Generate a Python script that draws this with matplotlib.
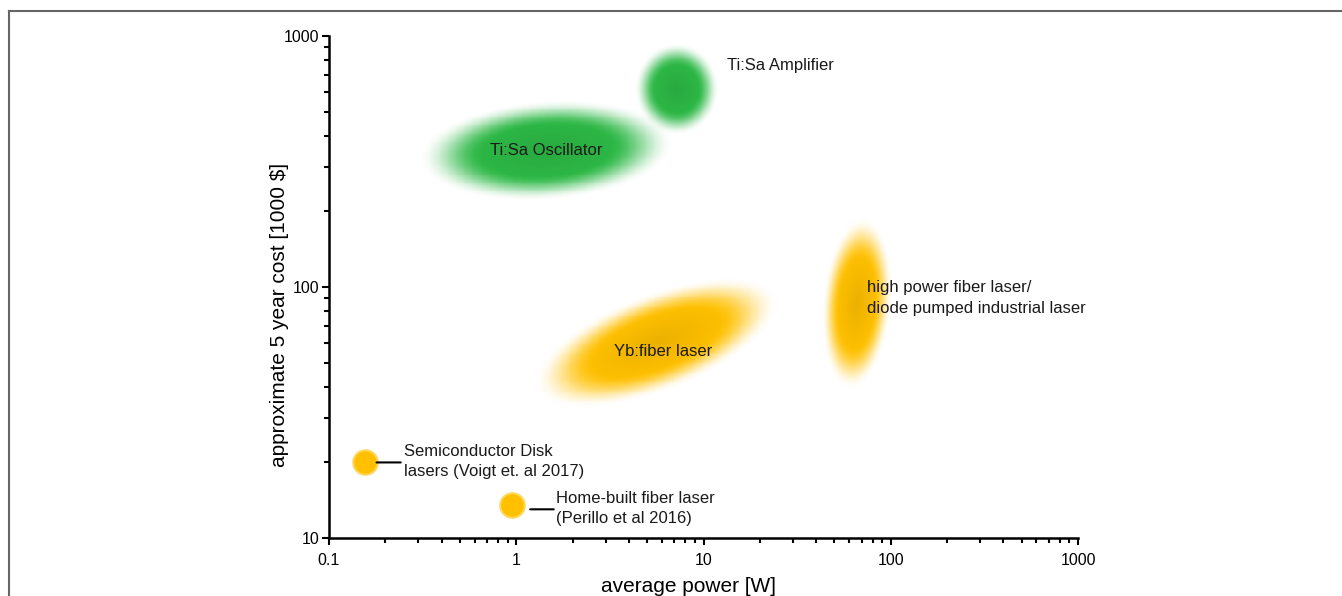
import numpy as np
import matplotlib
matplotlib.use('Agg')
from matplotlib import pyplot as plt
from matplotlib.colors import to_rgb
from matplotlib.lines import Line2D
from matplotlib.patches import ConnectionPatch
from matplotlib.transforms import ScaledTranslation

plt.rcParams['font.family'] = ['Liberation Sans', 'DejaVu Sans']

# laser classes shown as soft blobs (centre power in W, centre cost in 1000 $)
blob_names = ["Ti:Sa Oscillator", "Ti:Sa Amplifier", "Yb:fiber laser",
              "high power fiber laser/\ndiode pumped industrial laser"]
blob_power = [1.45, 7.2, 5.6, 66]
blob_cost = [350, 615, 60, 86]
blob_width = [0.68, 0.225, 0.69, 0.46]    # semi axis, in decades of power
blob_height = [0.265, 0.245, 0.26, 0.185]  # semi axis, in decades of power
blob_angle = [4, 0, 21, 85]
blob_color = ["#2cb845", "#2cb845", "#ffc000", "#ffc000"]

# single systems from the literature
spot_names = ["Semiconductor Disk\nlasers (Voigt et. al 2017)",
              "Home-built fiber laser\n(Perillo et al 2016)"]
spot_power = [0.155, 0.95]
spot_cost = [20, 13.5]

xtick_vals = [0.1, 1, 10, 100, 1000]
xtick_labels = ["0.1", "1", "10", "100", "1000"]
ytick_vals = [10, 100, 1000]
ytick_labels = ["10", "100", "1000"]

fig = plt.figure(figsize=(13.42, 5.96), dpi=100)
ax = fig.add_axes([329 / 1342, 58 / 596, 749 / 1342, 502 / 596])
ax.set_xscale('log')
ax.set_yscale('log')
ax.set_xlim(0.1, 1000)
ax.set_ylim(10, 1000)

# ratio of y-decade to x-decade on screen, so blobs keep their shape
p0 = ax.transData.transform((1, 10))
p1 = ax.transData.transform((10, 100))
k = (p1[1] - p0[1]) / (p1[0] - p0[0])

for px, py, a, b, ang, col in zip(blob_power, blob_cost, blob_width,
                                  blob_height, blob_angle, blob_color):
    R = max(a, b) * 1.05
    n = 300
    u_edge = np.linspace(-R, R, n + 1)
    v_edge = np.linspace(-R, R, n + 1)
    xe = 10 ** (np.log10(px) + u_edge)
    ye = 10 ** (np.log10(py) + v_edge / k)
    uc = (u_edge[:-1] + u_edge[1:]) / 2
    vc = (v_edge[:-1] + v_edge[1:]) / 2
    U, V = np.meshgrid(uc, vc)
    t = np.deg2rad(ang)
    up = U * np.cos(t) + V * np.sin(t)
    vp = -U * np.sin(t) + V * np.cos(t)
    r = np.sqrt((up / a) ** 2 + (vp / b) ** 2)
    s = np.clip((1 - r) / 0.5, 0, 1)
    alpha = s * s * (3 - 2 * s)
    base = np.array(to_rgb(col))
    dark = base * 0.92
    mix = np.clip((0.6 - r) / 0.6, 0, 1)[..., None]
    rgb = base * (1 - mix) + dark * mix
    rgba = np.dstack([rgb, alpha])
    ax.pcolormesh(xe, ye, rgba, shading='flat', edgecolors='none',
                  antialiased=False, zorder=1, rasterized=True)

# blob labels
label_offsets = [(0, 0), (36, 17), (5, -6), (7, 4)]
label_ha = ["center", "left", "center", "left"]
for name, px, py, off, ha in zip(blob_names, blob_power, blob_cost,
                                  label_offsets, label_ha):
    ax.annotate(name, xy=(px, py), xytext=off, textcoords='offset points',
                ha=ha, va='center', fontsize=12, color='#1a1a1a',
                linespacing=1.45, zorder=5)

# single systems with horizontal leader lines
ax.scatter(spot_power, spot_cost, s=310, color='#ffc000',
           edgecolors='#ffd65c', linewidths=1.5, zorder=3)
spot_text_off = [(28, 0.7), (31.7, -2.5)]
spot_line_off = [(8.6, 26, 0), (13, 30, -2.9)]
for name, px, py, toff, (la, lb, ly) in zip(spot_names, spot_power, spot_cost,
                                             spot_text_off, spot_line_off):
    ax.annotate(name, xy=(px, py), xytext=toff, textcoords='offset points',
                ha='left', va='center', fontsize=12, color='#1a1a1a',
                linespacing=1.45, zorder=5)
    ta = ax.transData + ScaledTranslation(la / 72, ly / 72, fig.dpi_scale_trans)
    tb = ax.transData + ScaledTranslation(lb / 72, ly / 72, fig.dpi_scale_trans)
    ax.add_artist(ConnectionPatch(xyA=(px, py), coordsA=ta, xyB=(px, py),
                                  coordsB=tb, color='black', lw=1.5, zorder=5))

ax.set_xticks(xtick_vals)
ax.set_xticklabels(xtick_labels)
ax.set_yticks(ytick_vals)
ax.set_yticklabels(ytick_labels)
ax.spines[['top', 'right']].set_visible(False)
ax.spines[['left', 'bottom']].set_linewidth(1.8)
ax.tick_params(which='major', length=5, width=1.5, labelsize=11.5,
               colors='black')
ax.tick_params(axis='x', which='major', pad=5.5)
ax.tick_params(axis='y', which='major', pad=2)
ax.tick_params(which='minor', length=3.5, width=1.5)
ax.set_xlabel("average power [W]", fontsize=15)
ax.set_ylabel("approximate 5 year cost [1000 $]", fontsize=15)
ax.xaxis.set_label_coords(0.48, -0.078)
ax.yaxis.set_label_coords(-0.053, 0.444)

# grey frame around the panel
fig.add_artist(Line2D([9 / 1342, 1], [1 - 11 / 596, 1 - 11 / 596],
                      transform=fig.transFigure, color='#666666', lw=1.5))
fig.add_artist(Line2D([9 / 1342, 9 / 1342], [0, 1 - 11 / 596],
                      transform=fig.transFigure, color='#666666', lw=1.5))

fig.savefig("out.png", dpi=100)
